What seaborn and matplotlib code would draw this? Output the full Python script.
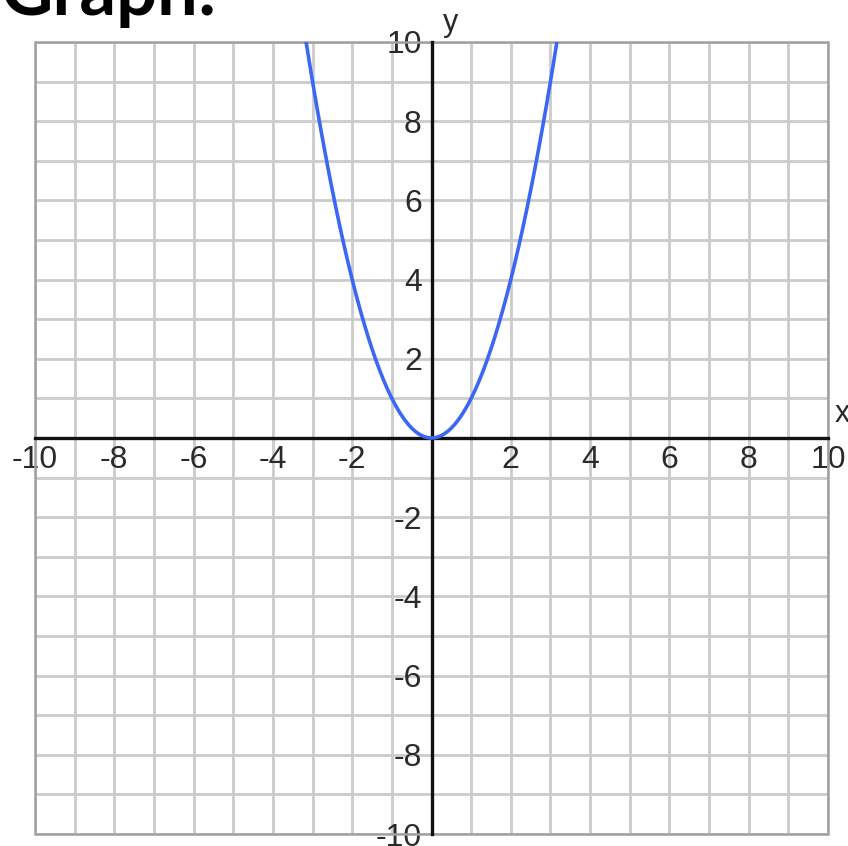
import matplotlib
matplotlib.use("Agg")
import matplotlib.pyplot as plt
import seaborn as sns
import pandas as pd
from matplotlib.patches import Rectangle

# Sample points of the parabola y = x^2
x_vals = [-3.2, -3.1, -3.0, -2.9, -2.8, -2.7, -2.6, -2.5, -2.4, -2.3, -2.2, -2.1,
          -2.0, -1.9, -1.8, -1.7, -1.6, -1.5, -1.4, -1.3, -1.2, -1.1, -1.0, -0.9,
          -0.8, -0.7, -0.6, -0.5, -0.4, -0.3, -0.2, -0.1, 0.0, 0.1, 0.2, 0.3, 0.4,
          0.5, 0.6, 0.7, 0.8, 0.9, 1.0, 1.1, 1.2, 1.3, 1.4, 1.5, 1.6, 1.7, 1.8,
          1.9, 2.0, 2.1, 2.2, 2.3, 2.4, 2.5, 2.6, 2.7, 2.8, 2.9, 3.0, 3.1, 3.2]
y_vals = [10.24, 9.61, 9.0, 8.41, 7.84, 7.29, 6.76, 6.25, 5.76, 5.29, 4.84, 4.41,
          4.0, 3.61, 3.24, 2.89, 2.56, 2.25, 1.96, 1.69, 1.44, 1.21, 1.0, 0.81,
          0.64, 0.49, 0.36, 0.25, 0.16, 0.09, 0.04, 0.01, 0.0, 0.01, 0.04, 0.09, 0.16,
          0.25, 0.36, 0.49, 0.64, 0.81, 1.0, 1.21, 1.44, 1.69, 1.96, 2.25, 2.56, 2.89, 3.24,
          3.61, 4.0, 4.41, 4.84, 5.29, 5.76, 6.25, 6.76, 7.29, 7.84, 8.41, 9.0, 9.61, 10.24]

grid_ticks = list(range(-10, 11))
tick_labels = [str(v) if (v % 2 == 0 and v != 0) else "" for v in grid_ticks]

sns.set_style("white")
plt.rcParams["font.family"] = ["Liberation Sans", "DejaVu Sans"]

fig = plt.figure(figsize=(8.48, 8.46), dpi=100)
ax = fig.add_axes([35 / 848, 12 / 846, 793 / 848, 792 / 846])

df = pd.DataFrame({"x": x_vals, "y": y_vals})
sns.lineplot(data=df, x="x", y="y", sort=False, ax=ax, color="#3b68f2",
             linewidth=2.6, zorder=4, clip_on=True)

ax.set_xlim(-10, 10)
ax.set_ylim(-10, 10)
ax.set_xticks(grid_ticks)
ax.set_yticks(grid_ticks)
ax.set_xticklabels(tick_labels)
ax.set_yticklabels(tick_labels)
ax.tick_params(length=0, labelsize=23, labelcolor="#2a2a2a")
ax.tick_params(axis="x", pad=5)
ax.tick_params(axis="y", pad=7)

ax.grid(True, color="#cbcbcb", linewidth=2.0)
ax.set_axisbelow(True)

for side in ("top", "right"):
    ax.spines[side].set_visible(False)
for side in ("left", "bottom"):
    ax.spines[side].set_position("zero")
    ax.spines[side].set_color("#111111")
    ax.spines[side].set_linewidth(2.4)
    ax.spines[side].set_zorder(3)

# Outer frame of the grid
ax.add_patch(Rectangle((0, 0), 1, 1, transform=ax.transAxes, fill=False,
                       edgecolor="#a0a0a0", linewidth=1.8, zorder=2.2, clip_on=False))

ax.set_xlabel("x", fontsize=22, color="#2a2a2a")
ax.set_ylabel("y", fontsize=22, color="#2a2a2a", rotation=0)
ax.xaxis.set_label_coords(1.008, 0.53)
ax.xaxis.label.set_ha("left")
ax.xaxis.label.set_va("center")
ax.yaxis.set_label_coords(0.515, 1.005)
ax.yaxis.label.set_ha("left")
ax.yaxis.label.set_va("bottom")

fig.text(0.0, 1 - 15 / 846, "Graph:", fontsize=52, fontweight="bold",
         family=["Lato", "DejaVu Sans"], ha="left", va="baseline", color="black")

fig.savefig("out.png", dpi=100)
